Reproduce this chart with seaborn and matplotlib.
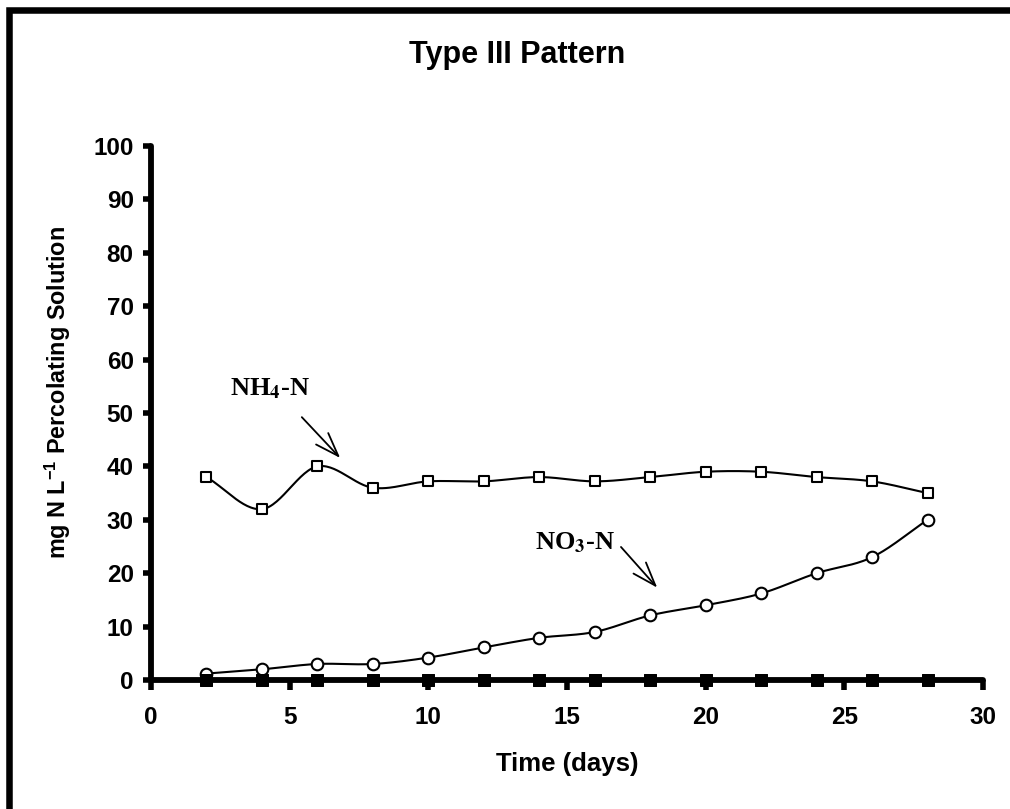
import numpy as np
import matplotlib
matplotlib.use('Agg')
import matplotlib.pyplot as plt
from matplotlib.patches import Rectangle
import seaborn as sns

# 数据
days = [2, 4, 6, 8, 10, 12, 14, 16, 18, 20, 22, 24, 26, 28]
nh4_n = [38, 32, 40, 36, 37.2, 37.2, 38, 37.2, 38, 39, 39, 38, 37.2, 35]
no3_n = [1.2, 2.0, 3.0, 3.0, 4.2, 6.1, 7.9, 9.0, 12.1, 14.0, 16.2, 20.0, 23.0, 30.0]
other_n = [0] * 14

x_ticks = [0, 5, 10, 15, 20, 25, 30]
y_ticks = [0, 10, 20, 30, 40, 50, 60, 70, 80, 90, 100]


def smooth_curve(x, y, n=30):
    """Excel 风格的平滑线 (Catmull-Rom)"""
    x = np.asarray(x, float)
    y = np.asarray(y, float)
    px = np.concatenate([[2 * x[0] - x[1]], x, [2 * x[-1] - x[-2]]])
    py = np.concatenate([[2 * y[0] - y[1]], y, [2 * y[-1] - y[-2]]])
    out_x, out_y = [], []
    t = np.linspace(0, 1, n, endpoint=False)
    for i in range(1, len(px) - 2):
        for arr, out in ((px, out_x), (py, out_y)):
            p0, p1, p2, p3 = arr[i - 1], arr[i], arr[i + 1], arr[i + 2]
            c1 = p1 + (p2 - p0) / 6
            c2 = p2 - (p3 - p1) / 6
            out.extend((1 - t) ** 3 * p1 + 3 * (1 - t) ** 2 * t * c1 + 3 * (1 - t) * t ** 2 * c2 + t ** 3 * p2)
    out_x.append(x[-1])
    out_y.append(y[-1])
    return np.array(out_x), np.array(out_y)


sns.set_style('white')
plt.rcParams['font.family'] = ['Liberation Sans', 'DejaVu Sans']
plt.rcParams['font.weight'] = 'bold'
plt.rcParams['text.color'] = 'black'
plt.rcParams['axes.labelcolor'] = 'black'
plt.rcParams['xtick.color'] = 'black'
plt.rcParams['ytick.color'] = 'black'
plt.rcParams['mathtext.fontset'] = 'custom'
plt.rcParams['mathtext.rm'] = 'Liberation Sans:bold'
plt.rcParams['mathtext.bf'] = 'Liberation Sans:bold'

fig = plt.figure(figsize=(10.1, 8.09), dpi=100)
ax = fig.add_axes([151 / 1010, 1 - 680 / 809, (983 - 151) / 1010, (680 - 146) / 809])

# 平滑曲线
for series in (nh4_n, no3_n):
    sx, sy = smooth_curve(days, series)
    sns.lineplot(x=sx, y=sy, color='black', lw=1.5, sort=False, ax=ax, zorder=3)

sns.scatterplot(x=days, y=nh4_n, marker='s', s=60, facecolor='white', edgecolor='black',
                linewidth=1.5, ax=ax, zorder=4)
sns.scatterplot(x=days, y=no3_n, marker='o', s=70, facecolor='white', edgecolor='black',
                linewidth=1.5, ax=ax, zorder=4)
sns.scatterplot(x=days, y=other_n, marker='s', s=80, color='black', edgecolor='black',
                ax=ax, zorder=5, clip_on=False)

ax.set_xlim(0, 30)
ax.set_ylim(0, 100)
ax.set_xticks(x_ticks)
ax.set_yticks(y_ticks)
sns.despine(ax=ax)
for side in ('left', 'bottom'):
    ax.spines[side].set_linewidth(4.2)
    ax.spines[side].set_color('black')
    ax.spines[side].set_capstyle('round')
ax.tick_params(axis='y', direction='out', length=6, width=4, pad=6.5, labelsize=17.5, left=True)
ax.tick_params(axis='x', direction='out', length=7, width=4, pad=12, labelsize=17.5, bottom=True)
for lab in ax.get_xticklabels() + ax.get_yticklabels():
    lab.set_fontweight('bold')

# 标题和坐标轴标签
fig.text(517 / 1010, 1 - 55 / 809, 'Type III Pattern', ha='center', va='center',
         fontsize=22, fontweight='bold')
fig.text(567 / 1010, 1 - 764 / 809, 'Time (days)', ha='center', va='center',
         fontsize=18.5, fontweight='bold')
fig.text(58 / 1010, 1 - 392 / 809, r'mg N L$^{\mathbf{-1}}$ Percolating Solution', ha='center',
         va='center', rotation=90, fontsize=16.8, fontweight='bold', math_fontfamily='custom')

# 注释箭头
serif = ['Liberation Serif', 'DejaVu Serif']
arrow_style = dict(arrowstyle='->,head_length=1.7,head_width=0.6', color='black', lw=1.3)
ax.annotate('', xy=(6.89, 41.2), xytext=(5.37, 49.6), arrowprops=arrow_style)
ax.text(4.29, 54.5, r'NH$_{\mathbf{4}}$-N', ha='center', va='center', fontsize=19,
        fontweight='bold', family=serif, math_fontfamily='stix')
ax.annotate('', xy=(18.32, 16.9), xytext=(16.88, 25.3), arrowprops=arrow_style)
ax.text(15.27, 25.8, r'NO$_{\mathbf{3}}$-N', ha='center', va='center', fontsize=19,
        fontweight='bold', family=serif, math_fontfamily='stix')

# 外框
fig.patches.append(Rectangle((9 / 1010, -0.2), 1.5, 1.2 - 10 / 809, transform=fig.transFigure,
                             fill=False, edgecolor='black', lw=4.7, clip_on=False))

fig.savefig('out.png', dpi=100)
